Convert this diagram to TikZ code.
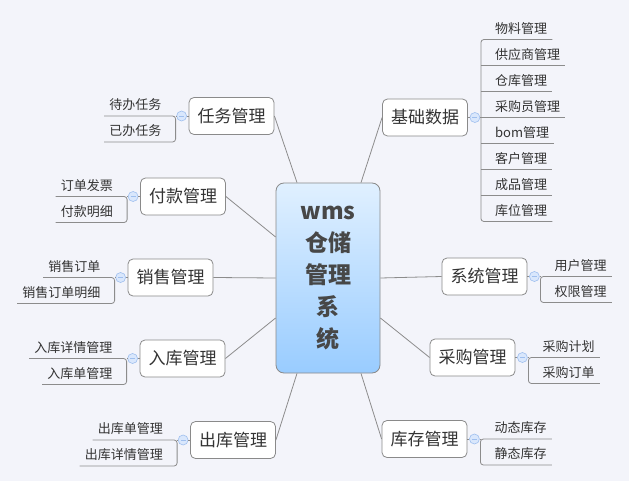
\documentclass[tikz,border=0pt]{standalone}
\usepackage{fontspec}
\setmainfont{Noto Sans CJK SC}
\usetikzlibrary{calc}
\definecolor{bg}{HTML}{F3F4FA}
\definecolor{linegray}{HTML}{8C8C8C}
\definecolor{boxgray}{HTML}{8A8A8A}
\definecolor{txt}{HTML}{333333}
\definecolor{ctop}{HTML}{E0F0FF}
\definecolor{cbot}{HTML}{99CCFF}
\definecolor{mkfill}{HTML}{D9E7FC}
\definecolor{mkdraw}{HTML}{9FBFEE}
\definecolor{ctxt}{HTML}{474747}
\newcommand{\rsub}[1]{\kern14pt #1\kern5pt}
\newcommand{\lsub}[1]{\kern5pt #1\kern14pt}
\begin{document}
\begin{tikzpicture}[x=1pt,y=-1pt,
  topic/.style={draw=boxgray, line width=0.8pt, fill=white, rounded corners=5pt, minimum width=85pt, minimum height=37pt, inner sep=0pt, font=\fontsize{17}{20}\selectfont, text=txt},
  central/.style={draw=boxgray, line width=0.8pt, rounded corners=8pt, top color=ctop, bottom color=cbot, minimum width=104pt, minimum height=190pt, inner sep=0pt, align=center, font=\fontsize{23}{32}\selectfont\bfseries, text=ctxt},
  sub/.style={inner sep=0pt, text height=13pt, text depth=6pt, font=\fontsize{13}{15}\selectfont, text=txt},
  subR/.style={sub, anchor=south west},
  subL/.style={sub, anchor=south east},
  marker/.style={circle, draw=mkdraw, fill=mkfill, line width=0.6pt, minimum size=10pt, inner sep=0pt, path picture={\draw[mkdraw, line width=0.8pt] ([xshift=-2.5pt]path picture bounding box.center) -- ([xshift=2.5pt]path picture bounding box.center);}},
  conn/.style={draw=linegray, line width=0.8pt},
  uline/.style={draw=linegray, line width=0.8pt},
  brk/.style={uline, rounded corners=3pt}
]
\fill[bg] (0,0) rectangle (629,481);
\useasboundingbox (0,0) rectangle (629,481);

% central node
\node[central] (c) at (328,278) {wms\\仓储\\管理\\系\\统};
\coordinate (ct1) at ($(c.north)+(-31,0)$);
\coordinate (ct2) at ($(c.north)+(33,0)$);
\coordinate (cb1) at ($(c.south)+(-31,0)$);
\coordinate (cb2) at ($(c.south)+(33,0)$);
\coordinate (cl1) at ($(c.west)+(0,-41)$);
\coordinate (cl2) at ($(c.west)+(0,0)$);
\coordinate (cl3) at ($(c.west)+(0,40)$);
\coordinate (cr2) at ($(c.east)+(0,0)$);
\coordinate (cr3) at ($(c.east)+(0,40)$);

% ---------- A: 基础数据 ----------
\node[topic] (A) at (425,117.5) {基础数据};
\node[marker] (Am) at ($(A.east)+(7,0)$) {};
\draw[conn] (A.east) -- (Am);
\node[subR] (A1) at ($(Am)+(6,-78)$) {\rsub{物料管理}};
\node[subR] (A2) at ($(Am)+(6,-52)$) {\rsub{供应商管理}};
\node[subR] (A3) at ($(Am)+(6,-26)$) {\rsub{仓库管理}};
\node[subR] (A4) at ($(Am)+(6,0)$) {\rsub{采购员管理}};
\node[subR] (A5) at ($(Am)+(6,26)$) {\rsub{bom管理}};
\node[subR] (A6) at ($(Am)+(6,52)$) {\rsub{客户管理}};
\node[subR] (A7) at ($(Am)+(6,78)$) {\rsub{成品管理}};
\node[subR] (A8) at ($(Am)+(6,104)$) {\rsub{库位管理}};
\draw[conn] (Am) -- (A4.south west);
\draw[brk] (A1.south east) -- (A1.south west) -- (A8.south west) -- (A8.south east);
\foreach \i in {2,...,7} \draw[uline] (A\i.south west) -- (A\i.south east);
\draw[conn] (A.west) -- (ct2);

% ---------- B: 系统管理 ----------
\node[topic] (B) at (484.5,276.5) {系统管理};
\node[marker] (Bm) at ($(B.east)+(7,0)$) {};
\draw[conn] (B.east) -- (Bm);
\node[subR] (B1) at ($(Bm)+(6,0)$) {\rsub{用户管理}};
\node[subR] (B2) at ($(Bm)+(6,26)$) {\rsub{权限管理}};
\draw[conn] (Bm) -- (B1.south west);
\draw[brk] (B1.south east) -- (B1.south west) -- (B2.south west) -- (B2.south east);
\draw[conn] (B.west) -- (cr2);

% ---------- C: 采购管理 ----------
\node[topic] (C) at (472.5,357.5) {采购管理};
\node[marker] (Cm) at ($(C.east)+(7,0)$) {};
\draw[conn] (C.east) -- (Cm);
\node[subR] (C1) at ($(Cm)+(6,0)$) {\rsub{采购计划}};
\node[subR] (C2) at ($(Cm)+(6,26)$) {\rsub{采购订单}};
\draw[conn] (Cm) -- (C1.south west);
\draw[brk] (C1.south east) -- (C1.south west) -- (C2.south west) -- (C2.south east);
\draw[conn] (C.west) -- (cr3);

% ---------- D: 库存管理 ----------
\node[topic] (D) at (424.5,439) {库存管理};
\node[marker] (Dm) at ($(D.east)+(7,0)$) {};
\draw[conn] (D.east) -- (Dm);
\node[subR] (D1) at ($(Dm)+(6,0)$) {\rsub{动态库存}};
\node[subR] (D2) at ($(Dm)+(6,26)$) {\rsub{静态库存}};
\draw[conn] (Dm) -- (D1.south west);
\draw[brk] (D1.south east) -- (D1.south west) -- (D2.south west) -- (D2.south east);
\draw[conn] (D.west) -- (cb2);

% ---------- E: 任务管理 ----------
\node[topic] (E) at (231.5,116) {任务管理};
\node[marker] (Em) at ($(E.west)+(-7,0)$) {};
\draw[conn] (E.west) -- (Em);
\node[subL] (E1) at ($(Em)+(-6,0)$) {\lsub{待办任务}};
\node[subL] (E2) at ($(Em)+(-6,26)$) {\lsub{已办任务}};
\draw[conn] (Em) -- (E1.south east);
\draw[brk] (E1.south west) -- (E1.south east) -- (E2.south east) -- (E2.south west);
\draw[conn] (E.east) -- (ct1);

% ---------- F: 付款管理 ----------
\node[topic] (F) at (183,196.5) {付款管理};
\node[marker] (Fm) at ($(F.west)+(-7,0)$) {};
\draw[conn] (F.west) -- (Fm);
\node[subL] (F1) at ($(Fm)+(-6,0)$) {\lsub{订单发票}};
\node[subL] (F2) at ($(Fm)+(-6,26)$) {\lsub{付款明细}};
\draw[conn] (Fm) -- (F1.south east);
\draw[brk] (F1.south west) -- (F1.south east) -- (F2.south east) -- (F2.south west);
\draw[conn] (F.east) -- (cl1);

% ---------- G: 销售管理 ----------
\node[topic] (G) at (170.5,277.5) {销售管理};
\node[marker] (Gm) at ($(G.west)+(-7,0)$) {};
\draw[conn] (G.west) -- (Gm);
\node[subL] (G1) at ($(Gm)+(-6,0)$) {\lsub{销售订单}};
\node[subL] (G2) at ($(Gm)+(-6,26)$) {\lsub{销售订单明细}};
\draw[conn] (Gm) -- (G1.south east);
\draw[brk] (G1.south west) -- (G1.south east) -- (G2.south east) -- (G2.south west);
\draw[conn] (G.east) -- (cl2);

% ---------- H: 入库管理 ----------
\node[topic] (H) at (182.5,358.5) {入库管理};
\node[marker] (Hm) at ($(H.west)+(-7,0)$) {};
\draw[conn] (H.west) -- (Hm);
\node[subL] (H1) at ($(Hm)+(-6,0)$) {\lsub{入库详情管理}};
\node[subL] (H2) at ($(Hm)+(-6,26)$) {\lsub{入库单管理}};
\draw[conn] (Hm) -- (H1.south east);
\draw[brk] (H1.south west) -- (H1.south east) -- (H2.south east) -- (H2.south west);
\draw[conn] (H.east) -- (cl3);

% ---------- I: 出库管理 ----------
\node[topic] (I) at (233,440) {出库管理};
\node[marker] (Im) at ($(I.west)+(-7,0)$) {};
\draw[conn] (I.west) -- (Im);
\node[subL] (I1) at ($(Im)+(-6,0)$) {\lsub{出库单管理}};
\node[subL] (I2) at ($(Im)+(-6,26)$) {\lsub{出库详情管理}};
\draw[conn] (Im) -- (I1.south east);
\draw[brk] (I1.south west) -- (I1.south east) -- (I2.south east) -- (I2.south west);
\draw[conn] (I.east) -- (cb1);
\end{tikzpicture}
\end{document}
